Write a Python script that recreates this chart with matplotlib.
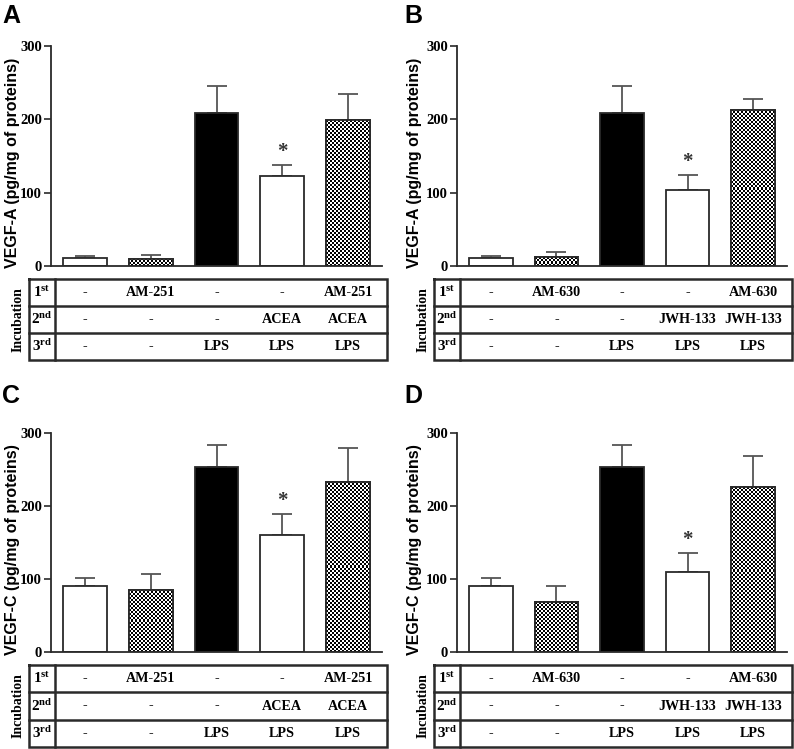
import numpy as np
import matplotlib
matplotlib.use("Agg")
import matplotlib.pyplot as plt

plt.rcParams['mathtext.fontset'] = 'custom'
plt.rcParams['mathtext.rm'] = 'Liberation Serif'
plt.rcParams['mathtext.bf'] = 'Liberation Serif:bold'

# ---------------- data ----------------
vegfa_cb1 = [11, 10, 209, 123, 199]
vegfa_cb1_err = [3, 5, 36, 15, 36]
vegfa_cb2 = [11, 12, 209, 103, 213]
vegfa_cb2_err = [3, 7, 36, 21, 15]
vegfc_cb1 = [91, 85, 253, 160, 233]
vegfc_cb1_err = [10, 22, 30, 29, 46]
vegfc_cb2 = [91, 68, 253, 110, 226]
vegfc_cb2_err = [10, 23, 30, 26, 42]

bar_styles = ['white', 'check', 'black', 'white', 'check']
sig_flags = [False, False, False, True, False]

rows_cb1 = [['-', 'AM-251', '-', '-', 'AM-251'],
            ['-', '-', '-', 'ACEA', 'ACEA'],
            ['-', '-', 'LPS', 'LPS', 'LPS']]
rows_cb2 = [['-', 'AM-630', '-', '-', 'AM-630'],
            ['-', '-', '-', 'JWH-133', 'JWH-133'],
            ['-', '-', 'LPS', 'LPS', 'LPS']]
row_names = [r'$\mathbf{1^{st}}$', r'$\mathbf{2^{nd}}$', r'$\mathbf{3^{rd}}$']
yticks = [0, 100, 200, 300]

W, H = 794, 749
fig = plt.figure(figsize=(W / 100, H / 100), dpi=100)

LINE = '#2a2a2a'
SERIF = 'Liberation Serif'
SANS = 'Liberation Sans'


def add_px(l, t, r, b):
    return fig.add_axes([l / W, 1 - b / H, (r - l) / W, (b - t) / H])


XL = (-0.515, 4.515)


def checker(px_w, px_h):
    nx = max(int(round(px_w / 2)), 1)
    ny = max(int(round(px_h / 2)), 1)
    arr = (np.add.outer(np.arange(ny), np.arange(nx)) % 2).astype(float)
    return arr


def panel(letter, ylabel, vals, errs, rows, box, tbox, sep_px, letter_pos):
    l, t, r, b = box
    ax = add_px(l, t, r, b)
    x = np.arange(len(vals))
    width = 0.667
    ppu_x = (r - l) / (XL[1] - XL[0])
    ppu_y = (b - t) / 300
    for i, (v, e, s) in enumerate(zip(vals, errs, bar_styles)):
        fc = {'white': 'white', 'black': 'black', 'check': 'white'}[s]
        rect = ax.bar(x[i], v, width, color=fc, edgecolor=LINE, linewidth=1.3,
                      zorder=2)[0]
        if s == 'check':
            arr = checker(width * ppu_x, v * ppu_y)
            im = ax.imshow(arr, cmap='gray',
                           extent=(x[i] - width / 2, x[i] + width / 2, 0, v),
                           interpolation='nearest', aspect='auto', zorder=2.5,
                           vmin=0, vmax=1)
            im.set_clip_path(rect)
            ax.bar(x[i], v, width, color='none', edgecolor=LINE, linewidth=1.3,
                   zorder=3)
        ax.errorbar(x[i], v, yerr=[[0], [e]], fmt='none', ecolor='#555555',
                    elinewidth=1.3, capsize=7, capthick=1.3, zorder=1)
        if sig_flags[i]:
            ax.text(x[i], v + e + 4, '*', ha='center', va='bottom',
                    fontsize=15, fontfamily=SERIF, fontweight='bold',
                    color='#333333')
    ax.set_aspect('auto')
    ax.set_xlim(*XL)
    ax.set_ylim(0, 300)
    for sp in ['top', 'right']:
        ax.spines[sp].set_visible(False)
    for sp in ['left', 'bottom']:
        ax.spines[sp].set_color(LINE)
        ax.spines[sp].set_linewidth(1.3)
    ax.set_xticks([])
    ax.set_yticks(yticks)
    ax.set_yticklabels([str(v) for v in yticks], fontfamily=SERIF,
                       fontweight='bold', fontsize=10.5)
    ax.tick_params(axis='y', direction='out', length=5, width=1.2, color=LINE,
                   pad=1.5)
    ax.set_ylabel(ylabel, fontfamily=SANS, fontweight='bold', fontsize=11.5)
    ax.yaxis.set_label_coords((letter_pos[0] + 18 - l) / (r - l), 0.47)

    fig.text(letter_pos[0] / W, 1 - letter_pos[1] / H, letter, fontfamily=SANS,
             fontweight='bold', fontsize=18, ha='left', va='center')

    # table
    tl, tt, tr, tb = tbox
    tax = add_px(tl, tt, tr, tb)
    xmin = XL[0] + (tl - l) / ppu_x
    xmax = XL[0] + (tr - l) / ppu_x
    sep = XL[0] + (sep_px - l) / ppu_x
    tax.set_xlim(xmin, xmax)
    tax.set_ylim(3, 0)
    tax.axis('off')
    lw = 1.8
    tax.plot([xmin, xmax, xmax, xmin, xmin], [0, 0, 3, 3, 0], color=LINE,
             lw=lw, clip_on=False, solid_joinstyle='miter')
    for yy in [1, 2]:
        tax.plot([xmin, xmax], [yy, yy], color=LINE, lw=lw, clip_on=False)
    tax.plot([sep, sep], [0, 3], color=LINE, lw=lw, clip_on=False)
    for ri, row in enumerate(rows):
        tax.text((xmin + sep) / 2, ri + 0.5, row_names[ri], ha='center',
                 va='center', fontsize=11)
        for ci, txt in enumerate(row):
            tax.text(x[ci], ri + 0.5, txt, ha='center', va='center',
                     fontfamily=SERIF, fontweight='bold', fontsize=10.2)
    fig.text((tl - 11) / W, 1 - ((tt + tb) / 2) / H, 'Incubation', rotation=90,
             ha='center', va='center', fontfamily=SERIF, fontweight='bold',
             fontsize=10)


panel('A', 'VEGF-A (pg/mg of proteins)', vegfa_cb1, vegfa_cb1_err, rows_cb1,
      (51, 46, 382, 266), (29, 279, 387, 360), 55, (2, 16))
panel('B', 'VEGF-A (pg/mg of proteins)', vegfa_cb2, vegfa_cb2_err, rows_cb2,
      (457, 46, 787, 266), (434, 279, 792, 360), 460, (404, 16))
panel('C', 'VEGF-C (pg/mg of proteins)', vegfc_cb1, vegfc_cb1_err, rows_cb1,
      (51, 433, 382, 652), (29, 665, 387, 747), 55, (2, 396))
panel('D', 'VEGF-C (pg/mg of proteins)', vegfc_cb2, vegfc_cb2_err, rows_cb2,
      (457, 433, 787, 652), (434, 665, 792, 747), 460, (404, 396))

fig.savefig('out.png', dpi=100)
